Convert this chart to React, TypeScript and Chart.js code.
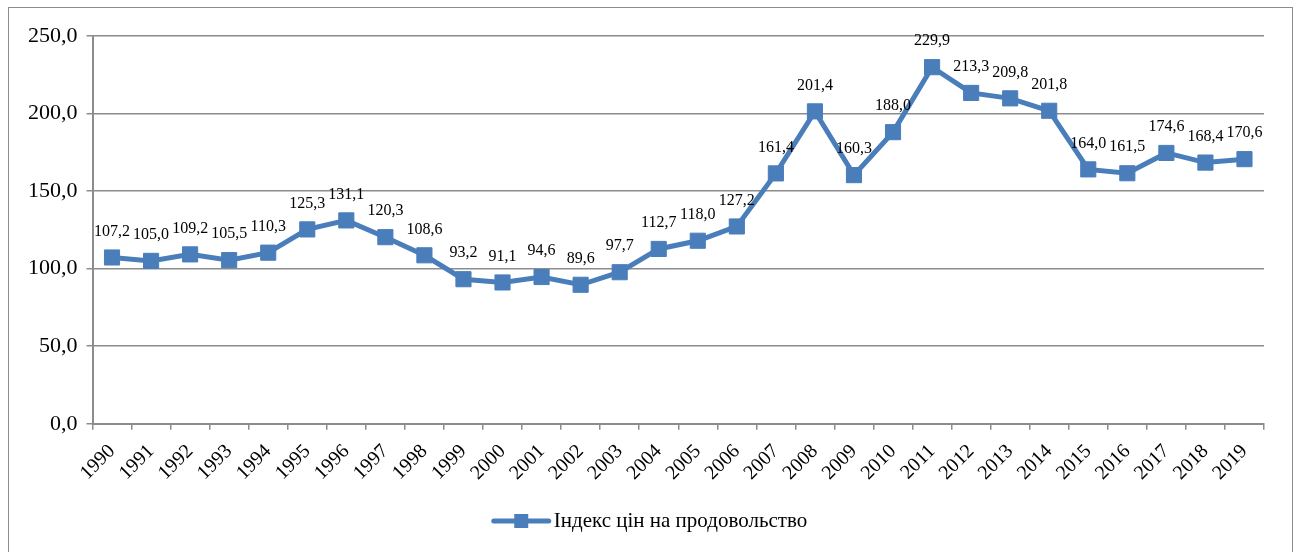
import React, { useEffect, useRef } from "react";
import { Chart, registerables } from "chart.js";

Chart.register(...registerables);

const years: string[] = [
  "1990", "1991", "1992", "1993", "1994", "1995", "1996", "1997", "1998", "1999",
  "2000", "2001", "2002", "2003", "2004", "2005", "2006", "2007", "2008", "2009",
  "2010", "2011", "2012", "2013", "2014", "2015", "2016", "2017", "2018", "2019",
];

const foodPriceIndex: number[] = [
  107.2, 105.0, 109.2, 105.5, 110.3, 125.3, 131.1, 120.3, 108.6, 93.2,
  91.1, 94.6, 89.6, 97.7, 112.7, 118.0, 127.2, 161.4, 201.4, 160.3,
  188.0, 229.9, 213.3, 209.8, 201.8, 164.0, 161.5, 174.6, 168.4, 170.6,
];

const seriesLabel = "Індекс цін на продовольство";

const LINE_COLOR = "#4a7ebb";
const GRID_COLOR = "#8c8c8c";
const FONT = "'Liberation Serif', serif";

const fmt = (v: number) => v.toFixed(1).replace(".", ",");

const dataLabelPlugin = {
  id: "dataLabels",
  afterDatasetsDraw(chart: any) {
    const ctx = chart.ctx;
    const meta = chart.getDatasetMeta(0);
    const ds = chart.data.datasets[0];
    ctx.save();
    ctx.font = `16px ${FONT}`;
    ctx.fillStyle = "#000";
    ctx.textAlign = "center";
    ctx.textBaseline = "middle";
    meta.data.forEach((pt: any, i: number) => {
      ctx.fillText(fmt(ds.data[i] as number), pt.x, pt.y - 26);
    });
    ctx.restore();
  },
};

const legendPlugin = {
  id: "customLegend",
  afterDraw(chart: any) {
    const ctx = chart.ctx;
    ctx.save();
    ctx.font = `21px ${FONT}`;
    const text = seriesLabel;
    const tw = ctx.measureText(text).width;
    const sampleW = 55;
    const gap = 5;
    const total = sampleW + gap + tw;
    const cx = chart.width / 2;
    const x0 = cx - total / 2;
    const y = chart.height - 47;
    ctx.strokeStyle = LINE_COLOR;
    ctx.lineWidth = 5;
    ctx.lineCap = "round";
    ctx.beginPath();
    ctx.moveTo(x0, y);
    ctx.lineTo(x0 + sampleW, y);
    ctx.stroke();
    ctx.fillStyle = LINE_COLOR;
    ctx.fillRect(x0 + sampleW / 2 - 7, y - 7, 14, 14);
    ctx.fillStyle = "#000";
    ctx.textAlign = "left";
    ctx.textBaseline = "middle";
    ctx.fillText(text, x0 + sampleW + gap, y);
    ctx.restore();
  },
};

export default function App() {
  const canvasRef = useRef<HTMLCanvasElement | null>(null);

  useEffect(() => {
    if (!canvasRef.current) return;
    const chart = new Chart(canvasRef.current, {
      type: "line",
      data: {
        labels: years,
        datasets: [
          {
            label: seriesLabel,
            data: foodPriceIndex,
            borderColor: LINE_COLOR,
            backgroundColor: LINE_COLOR,
            borderWidth: 5,
            pointStyle: "rect",
            pointRadius: 10.7,
            pointBorderWidth: 1,
            pointBackgroundColor: LINE_COLOR,
            pointBorderColor: LINE_COLOR,
            tension: 0,
          },
        ],
      },
      options: {
        animation: false,
        responsive: false,
        maintainAspectRatio: false,
        layout: { padding: { top: 28, right: 28, bottom: 73, left: 10 } },
        plugins: {
          legend: { display: false },
          tooltip: { enabled: false },
        },
        scales: {
          x: {
            offset: true,
            grid: {
              display: true,
              offset: true,
              drawOnChartArea: false,
              drawTicks: true,
              tickLength: 6,
              color: GRID_COLOR,
              lineWidth: 1.5,
            },
            border: { display: true, color: GRID_COLOR, width: 2 },
            ticks: {
              maxRotation: 45,
              minRotation: 45,
              autoSkip: false,
              color: "#000",
              padding: 10,
              font: { family: FONT, size: 20 },
            },
          },
          y: {
            min: 0,
            max: 250,
            grid: {
              color: GRID_COLOR,
              lineWidth: 1.5,
              tickLength: 6,
            },
            border: { display: true, color: GRID_COLOR, width: 2 },
            ticks: {
              stepSize: 50,
              color: "#000",
              padding: 9,
              font: { family: FONT, size: 22 },
              callback: (v: any) => fmt(Number(v)),
            },
          },
        },
      },
      plugins: [dataLabelPlugin, legendPlugin],
    });
    return () => chart.destroy();
  }, []);

  return (
    <div
      style={{
        position: "fixed",
        left: 8,
        top: 7,
        width: 1283,
        height: 560,
        border: "1px solid #8c8c8c",
        boxSizing: "content-box",
        background: "#fff",
      }}
    >
      <canvas ref={canvasRef} width={1283} height={560} style={{ display: "block" }} />
    </div>
  );
}
